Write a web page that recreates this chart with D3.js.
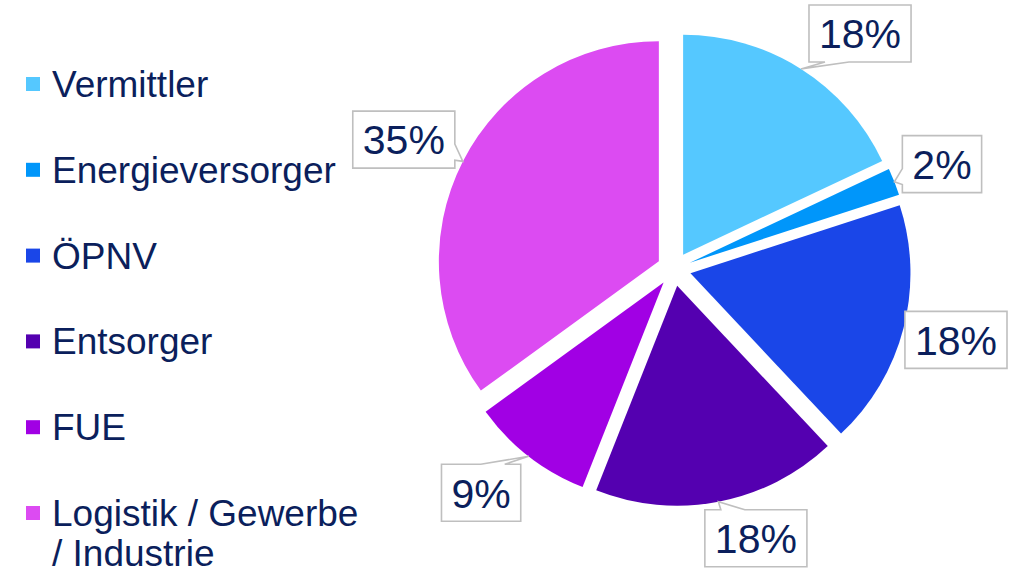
<!DOCTYPE html>
<html>
<head>
<meta charset="utf-8">
<script src="https://cdn.jsdelivr.net/npm/d3@7"></script>
<style>
  body{margin:0;background:#fff;}
  svg{display:block;}
</style>
</head>
<body>
<svg id="chart" width="1013" height="571"></svg>
<script>
// slice data, clockwise from 12 o'clock
var categories=['Vermittler','Energieversorger','ÖPNV','Entsorger','FUE','Logistik / Gewerbe / Industrie'];
var shares=[18,2,18,18,9,35];
var sliceColors=['#55c8ff','#0096fa','#1a46e8','#5400b0','#a100e4','#dc4bf2'];

var svg=d3.select('#chart');
var W=1013,H=571;
var textColor='#0b1f5c';
var family='"Liberation Sans", Arial, sans-serif';

// pie geometry
var cx=674,cy=269;
var radius=220;
var explode=17;

var pie=d3.pie().sort(null).value(function(d){return d.value;});
var arc=d3.arc().innerRadius(0).outerRadius(radius);

var rows=categories.map(function(c,i){
    return {name:c,value:shares[i],color:sliceColors[i]};
});
var arcs=pie(rows);

function polar(a,r){
    return [r*Math.sin(a),-r*Math.cos(a)];
}
function clamp(v,a,b){return Math.max(a,Math.min(b,v));}

var pie_g=svg.append('g').attr('transform','translate('+cx+','+cy+')');

pie_g.selectAll('path.slice')
    .data(arcs)
    .enter()
    .append('path')
    .attr('class','slice')
    .attr('d',arc)
    .attr('fill',function(d){return d.data.color;})
    .attr('transform',function(d){
        var m=(d.startAngle+d.endAngle)/2;
        var o=polar(m,explode);
        return 'translate('+o[0]+','+o[1]+')';
    });

// callout labels, placed just outside the arc point at the mid angle
var labelSize=41;
var boxH=57;
var padX=10;
var gap=8;

var label_g=pie_g.append('g');
arcs.forEach(function(d){
    var m=(d.startAngle+d.endAngle)/2;
    var off=polar(m,explode);
    var tip=polar(m,radius);
    tip=[tip[0]+off[0],tip[1]+off[1]];

    var g=label_g.append('g');
    var txt=g.append('text')
        .attr('text-anchor','middle')
        .attr('dy','0.36em')
        .style('font-family',family)
        .style('font-size',labelSize+'px')
        .style('fill',textColor)
        .text(d.data.value+'%');
    var tw=txt.node().getComputedTextLength();
    var bw=tw+2*padX;

    var dx=clamp(Math.sin(m)*200,-(bw/2+gap),bw/2+gap);
    var dy=clamp(-Math.cos(m)*48,-(boxH/2+gap),boxH/2+gap);
    var c=[tip[0]+dx,tip[1]+dy];

    var x0=c[0]-bw/2,x1=c[0]+bw/2,y0=c[1]-boxH/2,y1=c[1]+boxH/2;
    // keep the box inside the picture
    var sx=0,sy=0;
    if(y0+cy<5) sy=5-(y0+cy);
    if(y1+cy>H-2) sy=H-2-(y1+cy);
    if(x1+cx>W-6) sx=W-6-(x1+cx);
    x0+=sx;x1+=sx;y0+=sy;y1+=sy;
    c=[c[0]+sx,c[1]+sy];
    txt.attr('x',c[0]).attr('y',c[1]);

    // box outline with a wedge pointing at the slice
    var tx=tip[0],ty=tip[1];
    var wedge=24,inset=16;
    var p;
    if(ty>y1+4){
        var bc=clamp(tx,x0+inset+wedge/2,x1-inset-wedge/2);
        p=[[x0,y0],[x1,y0],[x1,y1],[bc+wedge/2,y1],[tx,ty],[bc-wedge/2,y1],[x0,y1]];
    }else if(ty<y0-4){
        var tc=clamp(tx,x0+inset+wedge/2,x1-inset-wedge/2);
        p=[[x0,y0],[tc-wedge/2,y0],[tx,ty],[tc+wedge/2,y0],[x1,y0],[x1,y1],[x0,y1]];
    }else if(tx<x0-4){
        var lc=clamp(ty,y0+10+wedge/4,y1-10-wedge/4);
        p=[[x0,y0],[x1,y0],[x1,y1],[x0,y1],[x0,lc+wedge/4+2],[tx,ty],[x0,lc-wedge/4-2]];
    }else if(tx>x1+4){
        var rc=clamp(ty,y0+10+wedge/4,y1-10-wedge/4);
        p=[[x0,y0],[x1,y0],[x1,rc-wedge/4-2],[tx,ty],[x1,rc+wedge/4+2],[x1,y1],[x0,y1]];
    }else{
        p=[[x0,y0],[x1,y0],[x1,y1],[x0,y1]];
    }
    g.insert('path','text')
        .attr('d',d3.line()(p)+'Z')
        .attr('fill','#fff')
        .attr('stroke','#bfbfbf')
        .attr('stroke-width',1.6);
});

// legend
var legendX=26,legendTop=77,legendStep=85.8,swatch=14;
var legendSize=37,lineGap=40,maxWidth=315;

var legend_g=svg.append('g');
rows.forEach(function(r,i){
    var y=legendTop+i*legendStep;
    legend_g.append('rect')
        .attr('x',legendX)
        .attr('y',y)
        .attr('width',swatch)
        .attr('height',swatch)
        .attr('fill',r.color);
    var t=legend_g.append('text')
        .attr('x',legendX+26)
        .attr('y',y+swatch/2+13)
        .style('font-family',family)
        .style('font-size',legendSize+'px')
        .style('fill',textColor);
    // simple word wrap
    var words=r.name.split(' ');
    var line=[];
    var tspan=t.append('tspan').attr('x',legendX+26).attr('dy',0);
    words.forEach(function(w){
        line.push(w);
        tspan.text(line.join(' '));
        if(tspan.node().getComputedTextLength()>maxWidth&&line.length>1){
            line.pop();
            tspan.text(line.join(' '));
            line=[w];
            tspan=t.append('tspan').attr('x',legendX+26).attr('dy',lineGap).text(w);
        }
    });
});
</script>
</body>
</html>
